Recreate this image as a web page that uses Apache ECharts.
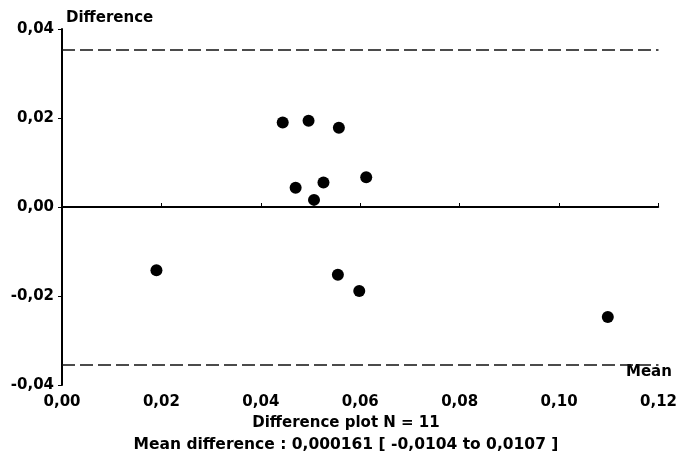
<!DOCTYPE html>
<html>
<head>
<meta charset="utf-8">
<script src="https://cdn.jsdelivr.net/npm/echarts@6/dist/echarts.min.js"></script>
<style>
  html, body { margin: 0; padding: 0; background: #fff; }
  #chart { width: 680px; height: 459px; }
</style>
</head>
<body>
<div id="chart"></div>
<script>
// data
const meanX = [0.0190, 0.0444, 0.0496, 0.0557, 0.0470, 0.0526, 0.0507, 0.0612, 0.0555, 0.0598, 0.1098];
const diffY = [-0.0142, 0.0190, 0.0194, 0.0178, 0.0043, 0.0055, 0.0016, 0.0067, -0.0152, -0.0189, -0.0247];
const meanLine = [0];
const limitLines = [0.0353, -0.0354];
const xTicks = { min: 0, max: 0.12, interval: 0.02 };
const yTicks = { min: -0.04, max: 0.04, interval: 0.02 };

const font = "DejaVu Sans";
const comma = v => v.toFixed(2).replace(".", ",");

const points = meanX.map((x, i) => [x, diffY[i]]);

const chart = echarts.init(document.getElementById("chart"));
chart.setOption({
  animation: false,
  grid: { left: 62, right: 21, top: 29, bottom: 74 },
  title: [
    {
      text: "Difference plot N = 11",
      left: 341, top: 411, textAlign: "center",
      textStyle: { fontFamily: font, fontSize: 15, fontWeight: "bold", color: "#000" },
    },
    {
      text: "Mean difference : 0,000161 [ -0,0104 to 0,0107 ]",
      left: 341, top: 432, textAlign: "center",
      textStyle: { fontFamily: font, fontSize: 15.5, fontWeight: "bold", color: "#000" },
    },
  ],
  graphic: [
    {
      type: "text", left: 626, top: 365,
      style: { text: "Mean", font: "bold 15px " + font, fill: "#000" },
    },
  ],
  xAxis: {
    type: "value",
    min: xTicks.min, max: xTicks.max, interval: xTicks.interval,
    axisLine: { lineStyle: { color: "#000", width: 1.5 } },
    axisTick: { inside: true, length: 4, lineStyle: { color: "#000" } },
    axisLabel: { formatter: comma, margin: 10, color: "#000", fontFamily: font, fontSize: 15, fontWeight: "bold" },
    splitLine: { show: false },
  },
  yAxis: {
    type: "value",
    min: yTicks.min, max: yTicks.max, interval: yTicks.interval,
    name: "Difference",
    nameLocation: "end",
    nameGap: 3,
    nameTextStyle: { align: "left", padding: [0, 0, 0, 4], color: "#000", fontFamily: font, fontSize: 15, fontWeight: "bold" },
    axisLine: { lineStyle: { color: "#000", width: 2 } },
    axisTick: { length: 4, lineStyle: { color: "#000" } },
    axisLabel: { formatter: comma, margin: 8, color: "#000", fontFamily: font, fontSize: 15, fontWeight: "bold" },
    splitLine: { show: false },
  },
  series: [
    {
      type: "scatter",
      data: points,
      symbolSize: 12,
      itemStyle: { color: "#000", opacity: 1 },
      markLine: {
        silent: true,
        symbol: "none",
        precision: 4,
        label: { show: false },
        data: [
          ...meanLine.map(v => ({ yAxis: v, lineStyle: { type: "solid", width: 2, color: "#000" } })),
          ...limitLines.map(v => ({ yAxis: v, lineStyle: { type: [13, 5], width: 1.5, color: "#111" } })),
        ],
      },
    },
  ],
});
</script>
</body>
</html>
